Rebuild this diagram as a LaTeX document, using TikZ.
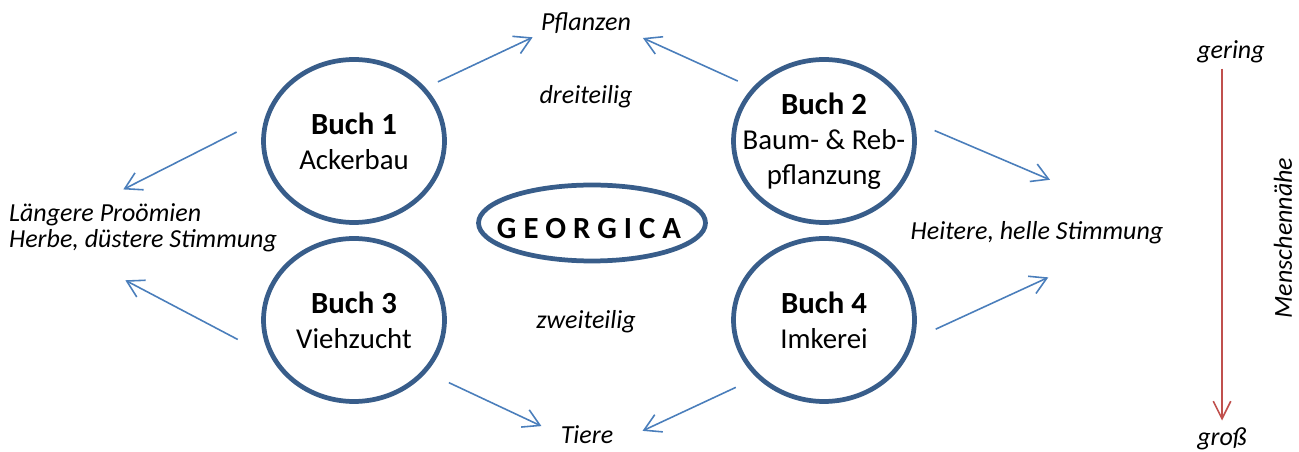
\documentclass[tikz,border=0pt]{standalone}
\usepackage{fontspec}
\setmainfont{Carlito}
\usetikzlibrary{arrows.meta,shapes.geometric,positioning}
\definecolor{Ring}{HTML}{385D8A}
\definecolor{Pfeil}{HTML}{4A7EBB}
\definecolor{Achse}{HTML}{C0504D}
\newcommand{\buchtitel}[1]{{\bfseries\fontsize{17.5}{20}\selectfont Buch #1}}

\begin{document}
\begin{tikzpicture}[x=0.02cm, y=-0.02cm,
    book/.style={draw=Ring, line width=2.7pt, ellipse, minimum width=3.62cm, minimum height=3.26cm, inner sep=0pt, outer sep=0pt},
    booktext/.style={align=center, inner sep=0pt, font={\fontsize{16.4}{20}\selectfont}},
    title/.style={draw=Ring, line width=2.7pt, ellipse, minimum width=4.54cm, minimum height=1.52cm, inner sep=0pt, outer sep=0pt},
    titletext/.style={inner sep=0pt, font={\bfseries\fontsize{17.5}{20}\selectfont}},
    note/.style={inner sep=0pt, font={\itshape\fontsize{14.8}{14.6}\selectfont}},
    arr/.style={draw=Pfeil, line width=0.9pt, -{Straight Barb[length=9.3pt,width=10.8pt]}},
    axis/.style={draw=Achse, line width=0.9pt, -{Straight Barb[length=10pt,width=10pt]}}
    ]
    \useasboundingbox (0,0) rectangle (1299,452);

    % die vier Buecher
    \node [book] (b1) at (354,141) {};
    \node [booktext] (t1) at (b1) {\buchtitel{1}\\Ackerbau};
    \node [book] (b2) at (824,141) {};
    \node [booktext] (t2) at (b2) {\buchtitel{2}\\Baum- \& Reb-\\pflanzung};
    \node [book] (b3) at (354,320) {};
    \node [booktext] (t3) at (b3) {\buchtitel{3}\\Viehzucht};
    \node [book] (b4) at (824,320) {};
    \node [booktext] (t4) at (b4) {\buchtitel{4}\\Imkerei};

    \node [title] (geo) at (592,223) {};
    \node [titletext] (geotext) at (589,228.5) {G E O R G I C A};

    % Beschriftungen
    \node [note] (pfl) at (586,23) {Pflanzen};
    \node [note] (drei) at (586,97) {dreiteilig};
    \node [note] (zwei) at (586,322) {zweiteilig};
    \node [note] (tiere) at (587,435) {Tiere};
    \node [note, align=left] (lft) at (143,228) {Längere Proömien\\Herbe, düstere Stimmung};
    \node [note] (rgt) at (1037,233) {Heitere, helle Stimmung};
    \node [note] (ger) at (1231,52) {gering};
    \node [note] (gro) at (1222,439) {groß};
    \node [note, rotate=90] (mensch) at (1283,238) {Menschennähe};

    \draw[arr, shorten <=0.32cm, shorten >=1.18cm] (b1.37) -- (pfl.north);
    \draw[arr, shorten <=0.37cm, shorten >=1.25cm] (b2.143) -- (pfl.north);
    \draw[arr, shorten <=0.70cm, shorten >=0.63cm] (b1.164) -- (lft.153);
    \draw[arr, shorten <=0.83cm, shorten >=1.20cm] (b3.206) -- (lft.199);
    \draw[arr, shorten <=0.50cm, shorten >=2.12cm] (b2.13) -- (rgt.6);
    \draw[arr, shorten <=0.53cm, shorten >=1.57cm] (b4.-13) -- (rgt.-8);
    \draw[arr, shorten <=0.54cm, shorten >=0.42cm] (b3.-36) -- (tiere.west);
    \draw[arr, shorten <=0.51cm, shorten >=0.64cm] (b4.221) -- (tiere.south east);
    \draw[axis, shorten <=0.1cm, shorten >=0.14cm] (gro |- ger.south) -- (gro.north);
\end{tikzpicture}
\end{document}
